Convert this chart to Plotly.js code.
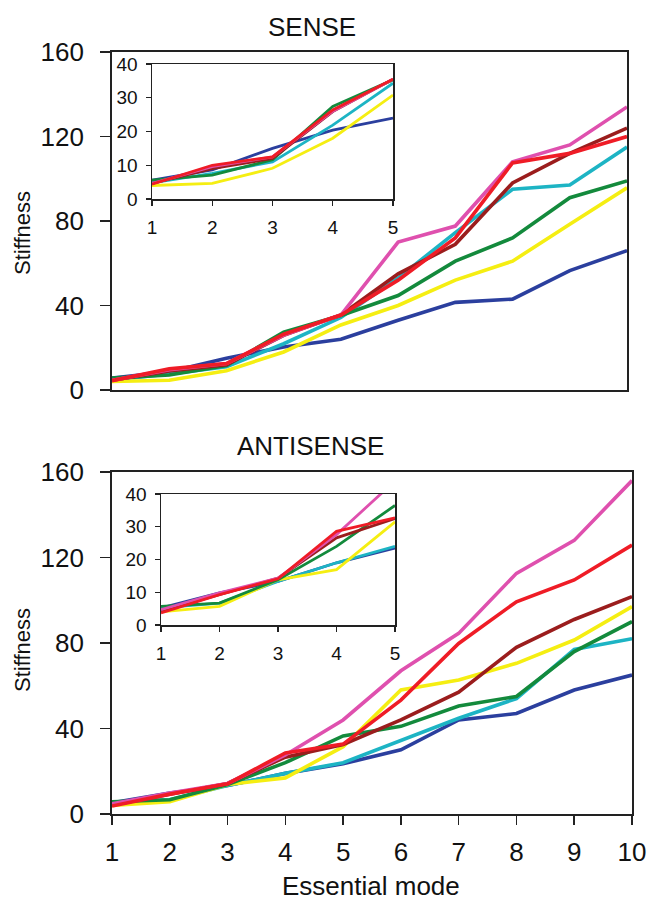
<!DOCTYPE html>
<html>
<head>
<meta charset="utf-8">
<script src="https://cdn.plot.ly/plotly-3.0.1.min.js"></script>
<style>html,body{margin:0;padding:0;background:#fff;}#chart{width:648px;height:901px;}</style>
</head>
<body>
<div id="chart"></div>
<script>
// ---- data ----
const modes = [1, 2, 3, 4, 5, 6, 7, 8, 9, 10];
const insetModes = [1, 2, 3, 4, 5];
const yTicks = [0, 40, 80, 120, 160];
const insetYTicks = [0, 10, 20, 30, 40];
const panelTitles = ["SENSE", "ANTISENSE"];
const xTitle = "Essential mode";
const yTitle = "Stiffness";

// SENSE
const senseBlue    = [5.6, 8.6, 15.0, 20.4, 24.0, 33.0, 41.5, 43.0, 56.5, 66.0];
const senseCyan    = [4.8, 7.6, 11.0, 21.9, 34.3, 53.0, 74.5, 95.0, 97.0, 115.0];
const senseYellow  = [4.0, 4.6, 9.1, 18.0, 30.8, 40.0, 52.0, 61.0, 78.5, 95.7];
const senseGreen   = [5.6, 7.1, 11.6, 27.4, 35.3, 44.7, 61.0, 72.0, 91.0, 99.0];
const senseBrown   = [4.6, 9.0, 12.0, 25.9, 35.5, 55.0, 69.0, 98.0, 112.0, 124.0];
const senseMagenta = [4.6, 9.6, 12.5, 26.0, 35.5, 70.0, 77.6, 108.0, 116.0, 134.0];
const senseRed     = [4.4, 10.0, 12.5, 26.4, 35.5, 52.0, 72.0, 107.5, 112.0, 120.0];

// ANTISENSE
const antiBlue    = [5.2, 9.8, 13.3, 19.0, 23.5, 30.0, 44.0, 47.0, 58.0, 65.0];
const antiCyan    = [5.2, 6.7, 13.3, 19.0, 24.0, 34.6, 44.8, 54.0, 77.0, 82.0];
const antiYellow  = [4.0, 5.7, 13.8, 16.9, 31.5, 58.0, 62.7, 70.5, 81.4, 97.0];
const antiGreen   = [5.7, 6.7, 13.8, 24.0, 36.5, 41.0, 50.5, 55.0, 76.0, 90.0];
const antiBrown   = [4.2, 9.3, 14.3, 26.6, 32.5, 44.0, 57.0, 78.0, 91.0, 101.7];
const antiMagenta = [4.7, 9.8, 14.3, 27.6, 44.0, 67.0, 84.5, 112.6, 128.0, 156.0];
const antiRed     = [3.7, 9.3, 14.1, 28.6, 32.7, 53.3, 79.8, 99.3, 109.5, 125.8];

const colors = {
  blue: "#2b3f9e", cyan: "#1db4c4", yellow: "#f5ee12", green: "#138a3c",
  brown: "#9b1d1d", magenta: "#df50ae", red: "#ef1c26"
};

const senseSeries = [
  ["blue", senseBlue], ["cyan", senseCyan], ["yellow", senseYellow], ["green", senseGreen],
  ["brown", senseBrown], ["magenta", senseMagenta], ["red", senseRed]
];
const antiSeries = [
  ["blue", antiBlue], ["cyan", antiCyan], ["yellow", antiYellow], ["green", antiGreen],
  ["brown", antiBrown], ["magenta", antiMagenta], ["red", antiRed]
];

const traces = [];
function addSet(series, xa, ya, inset) {
  series.forEach(([c, vals]) => {
    traces.push({
      type: "scatter", mode: "lines",
      x: inset ? insetModes : modes,
      y: inset ? vals.slice(0, insetModes.length) : vals,
      xaxis: xa, yaxis: ya,
      line: {color: colors[c], width: inset ? 2.8 : 3.6},
      showlegend: false, hoverinfo: "skip"
    });
  });
}
addSet(senseSeries, "x", "y", false);
addSet(senseSeries, "x2", "y2", true);
addSet(antiSeries, "x3", "y3", false);
addSet(antiSeries, "x4", "y4", true);

const W = 648, H = 901;
const dx = (a, b) => [a / W, b / W];
const dy = (top, bot) => [1 - bot / H, 1 - top / H];

const fontFam = "Liberation Sans, Arial, sans-serif";
const lineCol = "#222";

function mainX(domain, anchor, showLabels) {
  return {
    domain: domain, anchor: anchor, range: [1, 10],
    tickvals: modes, ticktext: modes.map(String),
    showticklabels: showLabels, ticks: showLabels ? "outside" : "", ticklen: 9, tickwidth: 1.5, tickcolor: lineCol,
    showline: true, linecolor: lineCol, linewidth: 1.8, mirror: true,
    showgrid: false, zeroline: false, fixedrange: true,
    tickfont: {family: fontFam, size: 26, color: "#111"}, ticklabelstandoff: 5
  };
}
function mainY(domain, anchor) {
  return {
    domain: domain, anchor: anchor, range: [0, 160],
    tickvals: yTicks, ticktext: yTicks.map(String),
    ticks: "outside", ticklen: 10, tickwidth: 1.5, tickcolor: lineCol,
    showline: true, linecolor: lineCol, linewidth: 1.8, mirror: true,
    showgrid: false, zeroline: false, fixedrange: true,
    tickfont: {family: fontFam, size: 26, color: "#111"}, ticklabelstandoff: 11
  };
}
function insetX(domain, anchor) {
  return {
    domain: domain, anchor: anchor, range: [1, 5],
    tickvals: insetModes, ticktext: insetModes.map(String),
    ticks: "outside", ticklen: 5, tickwidth: 1.3, tickcolor: lineCol,
    showline: true, linecolor: lineCol, linewidth: 1.5, mirror: true,
    showgrid: false, zeroline: false, fixedrange: true,
    tickfont: {family: fontFam, size: 19, color: "#111"}, ticklabelstandoff: 6
  };
}
function insetY(domain, anchor) {
  return {
    domain: domain, anchor: anchor, range: [0, 40],
    tickvals: insetYTicks, ticktext: insetYTicks.map(String),
    ticks: "outside", ticklen: 5, tickwidth: 1.3, tickcolor: lineCol,
    showline: true, linecolor: lineCol, linewidth: 1.5, mirror: true,
    showgrid: false, zeroline: false, fixedrange: true,
    tickfont: {family: fontFam, size: 19, color: "#111"}, ticklabelstandoff: 4
  };
}

const layout = {
  width: W, height: H,
  margin: {l: 0, r: 0, t: 0, b: 0},
  paper_bgcolor: "#fff", plot_bgcolor: "rgba(0,0,0,0)",
  showlegend: false,
  xaxis:  mainX(dx(112, 627), "y", false),
  yaxis:  mainY(dy(52, 390), "x"),
  xaxis2: insetX(dx(152, 393), "y2"),
  yaxis2: insetY(dy(64, 199), "x2"),
  xaxis3: mainX(dx(112, 632), "y3", true),
  yaxis3: mainY(dy(472, 814), "x3"),
  xaxis4: insetX(dx(161, 395), "y4"),
  yaxis4: insetY(dy(494, 625), "x4"),
  annotations: [
    {text: panelTitles[0], x: 312 / W, y: 1 - 27 / H, xref: "paper", yref: "paper", showarrow: false,
     xanchor: "center", yanchor: "middle", font: {family: fontFam, size: 26, color: "#111"}},
    {text: panelTitles[1], x: 310 / W, y: 1 - 446 / H, xref: "paper", yref: "paper", showarrow: false,
     xanchor: "center", yanchor: "middle", font: {family: fontFam, size: 26, color: "#111"}},
    {text: yTitle, x: 22 / W, y: 1 - 233 / H, xref: "paper", yref: "paper", showarrow: false, textangle: -90,
     xanchor: "center", yanchor: "middle", font: {family: fontFam, size: 22, color: "#111"}},
    {text: yTitle, x: 22 / W, y: 1 - 650 / H, xref: "paper", yref: "paper", showarrow: false, textangle: -90,
     xanchor: "center", yanchor: "middle", font: {family: fontFam, size: 22, color: "#111"}},
    {text: xTitle, x: 371 / W, y: 1 - 886 / H, xref: "paper", yref: "paper", showarrow: false,
     xanchor: "center", yanchor: "middle", font: {family: fontFam, size: 26, color: "#111"}}
  ]
};

Plotly.newPlot("chart", traces, layout, {staticPlot: true, displayModeBar: false});
</script>
</body>
</html>
